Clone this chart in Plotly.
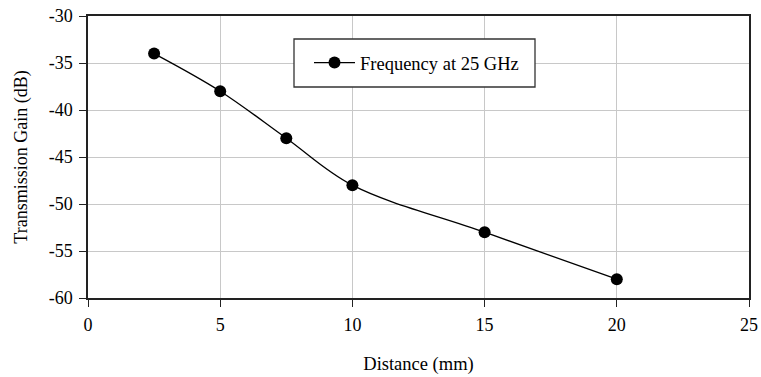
import plotly.graph_objects as go

distance_mm = [2.5, 5, 7.5, 10, 15, 20]
gain_db = [-34, -38, -43, -48, -53, -58]
series_name = "Frequency at 25 GHz"
x_ticks = [0, 5, 10, 15, 20, 25]
x_ticklabels = ["0", "5", "10", "15", "20", "25"]
y_ticks = [-60, -55, -50, -45, -40, -35, -30]
y_ticklabels = ["-60", "-55", "-50", "-45", "-40", "-35", "-30"]

FONT = "Liberation Serif, Times New Roman, serif"

W, H = 761, 377
L, R, T, B = 88, 12, 16, 79
pw, ph = W - L - R, H - T - B
def px(x): return (x - L) / pw
def py(y): return (H - B - y) / ph

fig = go.Figure()
fig.add_trace(go.Scatter(
    x=distance_mm, y=gain_db, name=series_name,
    mode="lines+markers",
    line=dict(color="black", width=1.3, shape="spline", smoothing=1.0),
    marker=dict(color="black", size=12),
))

fig.add_shape(type="rect", xref="paper", yref="paper",
              x0=px(294), x1=px(535), y0=py(87), y1=py(39),
              line=dict(color="#333", width=1.3), fillcolor="white", layer="above")

axis_common = dict(
    showline=True, linecolor="#222", linewidth=1.5, mirror=True,
    showgrid=True, gridcolor="#c8c8c8", gridwidth=1,
    ticks="outside", ticklen=7, tickcolor="#222", tickwidth=1.2,
    zeroline=False, automargin=False,
    tickfont=dict(family=FONT, size=18, color="black"),
)
fig.update_xaxes(range=[0, 25], tickmode="array", tickvals=x_ticks, ticktext=x_ticklabels,
                 ticklabelstandoff=3, **axis_common,
                 title=dict(text="Distance (mm)", font=dict(family=FONT, size=18.5, color="black"), standoff=23))
fig.update_yaxes(range=[-60, -30], tickmode="array", tickvals=y_ticks, ticktext=y_ticklabels,
                 ticklabelstandoff=3, **axis_common,
                 title=dict(text="Transmission Gain (dB)", font=dict(family=FONT, size=18, color="black"), standoff=16))

fig.update_layout(
    width=W, height=H, margin=dict(l=L, r=R, t=T, b=B, autoexpand=False),
    paper_bgcolor="white", plot_bgcolor="white",
    font=dict(family=FONT, size=18, color="black"),
    showlegend=True,
    legend=dict(x=px(309), y=py(63), xanchor="left", yanchor="middle",
                bgcolor="rgba(0,0,0,0)", borderwidth=0, itemwidth=41,
                font=dict(family=FONT, size=18.5, color="black")),
)
fig.write_html("out.html", config={"displayModeBar": False},
               post_script="document.body.style.margin='0';document.body.style.overflow='hidden';")
